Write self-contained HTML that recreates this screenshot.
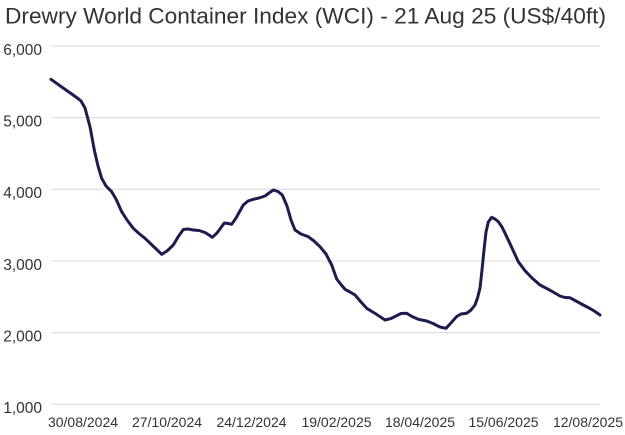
<!DOCTYPE html>
<html>
<head>
<meta charset="utf-8">
<style>
html,body{margin:0;padding:0;background:#fff;}
svg{display:block;}
text{font-family:"Liberation Sans",Arial,sans-serif;fill:#333;}
</style>
</head>
<body>
<svg width="625" height="435" viewBox="0 0 625 435" xmlns="http://www.w3.org/2000/svg">
<rect width="625" height="435" fill="#fff"/>
<text x="5" y="23.5" font-size="22" textLength="601" lengthAdjust="spacingAndGlyphs" fill="#2e2e2e">Drewry World Container Index (WCI) - 21 Aug 25 (US$/40ft)</text>
<g stroke="#e2e2e2" stroke-width="1.3">
<line x1="51" y1="46" x2="600" y2="46"/>
<line x1="51" y1="117.7" x2="600" y2="117.7"/>
<line x1="51" y1="189.3" x2="600" y2="189.3"/>
<line x1="51" y1="261" x2="600" y2="261"/>
<line x1="51" y1="332.7" x2="600" y2="332.7"/>
<line x1="51" y1="404.3" x2="600" y2="404.3"/>
</g>
<g font-size="15.5" text-anchor="end">
<text x="42" y="55">6,000</text>
<text x="42" y="126.5">5,000</text>
<text x="42" y="198">4,000</text>
<text x="42" y="270">3,000</text>
<text x="42" y="341.5">2,000</text>
<text x="42" y="413">1,000</text>
</g>
<g font-size="14" text-anchor="middle">
<text x="83" y="427">30/08/2024</text>
<text x="167" y="427">27/10/2024</text>
<text x="251.5" y="427">24/12/2024</text>
<text x="336.5" y="427">19/02/2025</text>
<text x="420" y="427">18/04/2025</text>
<text x="503.5" y="427">15/06/2025</text>
<text x="588" y="427">12/08/2025</text>
</g>
<polyline fill="none" stroke="#1c1d4e" stroke-width="3" stroke-linejoin="round" stroke-linecap="round" points="51,79.3 61,86.5 71,93.5 78,98.5 81,101 85,108 90,126.7 94.3,150 98,166 101.7,178.3 106,186 111.7,191.7 116,199 121.7,211.7 127,220 133.3,228.3 139,233.5 145,238.3 153,246 161.7,254.3 167,251 173.3,245 178,237 183.3,229.5 188,229 193.3,230 199,230.5 205,232.5 209,235 212.3,237.3 217,233 224.3,223 228,223.5 231.7,224.3 236,218 243.3,205 248,201 253.3,199.3 259,198 265,196 269,193 273.3,190 278,191.5 282.3,195 287,206 291,220 295,230 301,234 308.3,236.7 314,241 320,246.7 326,254 331.7,265 336.7,279 341,284.5 345,289.3 350,292 355,295 361,302 366.7,308.3 376,314 385,320 391,318.5 396,316 401,313.5 406.7,313.3 412,316.5 418.3,319.3 426.7,321 433,323.5 440,327 446,328.3 450,324 456.7,316.5 461,314 466.7,313.3 471,310 475,305 477.5,298 480,288 482,270 484,250 486,232 488.3,222 491.7,217.3 495,219 498.3,221.7 502,227 506.7,236.7 512,248 518.3,261.7 525,270.7 532,278 540,285 548.3,289.3 554,292.5 560,296 565,297.5 570,297.8 576,301 583.3,305 590,308.5 595,311.5 600,315"/>
</svg>
</body>
</html>
